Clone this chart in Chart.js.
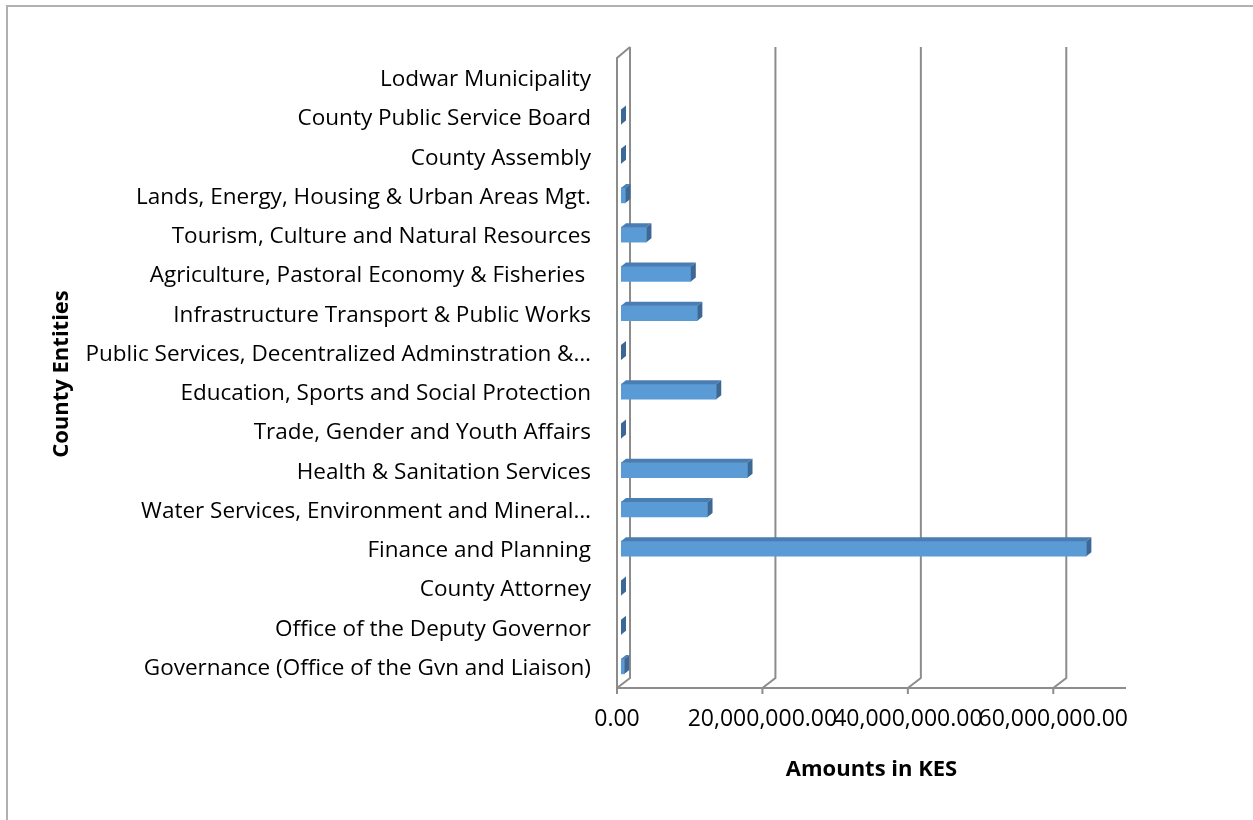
<!DOCTYPE html>
<html>
<head>
<meta charset="utf-8">
<title>County Entities</title>
<script src="https://cdn.jsdelivr.net/npm/chart.js@4.4.1/dist/chart.umd.min.js"></script>
<style>
  html, body { margin: 0; padding: 0; background: #fff; }
  #wrap { position: relative; width: 1253px; height: 820px; overflow: hidden; }
  #frame { position: absolute; left: 6px; top: 5px; width: 1300px; height: 900px; border: 2px solid #b0b0b0; }
  #chart { position: absolute; left: 0; top: 0; }
</style>
</head>
<body>
<div id="wrap">
  <div id="frame"></div>
  <canvas id="chart" width="1253" height="820"></canvas>
</div>
<script>
// entities, bottom row first
var entities = [
  'Governance (Office of the Gvn and Liaison)',
  'Office of the Deputy Governor',
  'County Attorney',
  'Finance and Planning',
  'Water Services, Environment and Mineral…',
  'Health & Sanitation Services',
  'Trade, Gender and Youth Affairs',
  'Education, Sports and Social Protection',
  'Public Services, Decentralized Adminstration &…',
  'Infrastructure Transport & Public Works',
  'Agriculture, Pastoral Economy & Fisheries ',
  'Tourism, Culture and Natural Resources',
  'Lands, Energy, Housing & Urban Areas Mgt.',
  'County Assembly',
  'County Public Service Board',
  'Lodwar Municipality'
];
var amounts = [450000, 0, 0, 64000000, 11900000, 17400000, 0, 13100000, 0,
               10500000, 9600000, 3500000, 600000, 0, 0, null];
var amountTicks = [0, 20000000, 40000000, 60000000];
var amountMax = 70000000;

var FRONT = '#5b9bd5', TOP = '#4a7db1', SIDE = '#3c6896', GRID = '#8c8c8c';
var WALL_DX = 13, WALL_DY = -11;   // depth of walls / floor
var BAR_DX = 5, BAR_DY = -4;       // depth of each bar
var BAR_SHIFT_X = 4, BAR_SHIFT_Y = -2;

function money(v) {
  return v.toLocaleString('en-US', { minimumFractionDigits: 2, maximumFractionDigits: 2 });
}

var excel3d = {
  id: 'excel3d',
  beforeDatasetsDraw: function(chart) {
    var ctx = chart.ctx, area = chart.chartArea, xs = chart.scales.x;
    var top = area.top - 2, bottom = area.bottom;
    ctx.save();
    ctx.strokeStyle = GRID;
    ctx.lineWidth = 2;
    ctx.lineJoin = 'miter';
    // back wall grid lines with their floor diagonals
    amountTicks.forEach(function(v) {
      var x = xs.getPixelForValue(v);
      ctx.beginPath();
      ctx.moveTo(x + WALL_DX, top + WALL_DY);
      ctx.lineTo(x + WALL_DX, bottom + WALL_DY + 1);
      ctx.lineTo(x, bottom);
      ctx.stroke();
      // tick mark under the floor
      ctx.beginPath();
      ctx.moveTo(x, bottom);
      ctx.lineTo(x, bottom + 6);
      ctx.stroke();
    });
    // side wall
    var x0 = xs.getPixelForValue(0);
    ctx.beginPath();
    ctx.moveTo(x0, bottom);
    ctx.lineTo(x0, top);
    ctx.lineTo(x0 + WALL_DX, top + WALL_DY);
    ctx.stroke();
    // floor front edge
    ctx.beginPath();
    ctx.moveTo(x0, bottom);
    ctx.lineTo(xs.getPixelForValue(amountMax), bottom);
    ctx.stroke();
    ctx.restore();

    ctx.save();
    ctx.translate(BAR_SHIFT_X, BAR_SHIFT_Y);
  },
  afterDatasetsDraw: function(chart) {
    var ctx = chart.ctx;
    var meta = chart.getDatasetMeta(0);
    meta.data.forEach(function(bar, i) {
      if (amounts[i] === null) return;
      var p = bar.getProps(['x', 'y', 'base', 'height'], true);
      var t = p.y - p.height / 2, b = p.y + p.height / 2;
      // top face
      ctx.fillStyle = TOP;
      ctx.beginPath();
      ctx.moveTo(p.base, t);
      ctx.lineTo(p.x, t);
      ctx.lineTo(p.x + BAR_DX, t + BAR_DY);
      ctx.lineTo(p.base + BAR_DX, t + BAR_DY);
      ctx.closePath();
      ctx.fill();
      // end face
      ctx.fillStyle = SIDE;
      ctx.beginPath();
      ctx.moveTo(p.x, t);
      ctx.lineTo(p.x + BAR_DX, t + BAR_DY);
      ctx.lineTo(p.x + BAR_DX, b + BAR_DY);
      ctx.lineTo(p.x, b);
      ctx.closePath();
      ctx.fill();
    });
    ctx.restore();
  }
};

Chart.defaults.font.family = '"Open Sans", "DejaVu Sans", sans-serif';
Chart.defaults.color = '#000';

new Chart(document.getElementById('chart'), {
  type: 'bar',
  data: {
    labels: entities,
    datasets: [{
      data: amounts,
      backgroundColor: FRONT,
      borderWidth: 0,
      barThickness: 15
    }]
  },
  options: {
    indexAxis: 'y',
    responsive: false,
    devicePixelRatio: 1,
    animation: false,
    layout: { padding: { top: 60, right: 127, left: 0, bottom: 0 } },
    plugins: { legend: { display: false }, tooltip: { enabled: false } },
    scales: {
      y: {
        type: 'category',
        reverse: true,
        grid: { display: false, drawTicks: false },
        border: { display: false },
        ticks: { autoSkip: false, padding: 26, font: { size: 22.5 } },
        title: { display: true, text: 'County Entities', font: { size: 22, weight: 'bold' }, padding: { top: 49 } },
        afterFit: function(s) { s.width = 617; }
      },
      x: {
        type: 'linear',
        min: 0,
        max: amountMax,
        grid: { display: false, drawTicks: false },
        border: { display: false },
        afterBuildTicks: function(s) {
          s.ticks = amountTicks.map(function(v) { return { value: v }; });
        },
        ticks: {
          autoSkip: false, maxRotation: 0, minRotation: 0, padding: 18,
          font: { size: 23 },
          callback: function(v) { return money(v); }
        },
        title: { display: true, text: 'Amounts in KES', font: { size: 22, weight: 'bold' }, padding: { bottom: 37 } },
        afterFit: function(s) { s.height = 132; }
      }
    }
  },
  plugins: [excel3d]
});
</script>
</body>
</html>
